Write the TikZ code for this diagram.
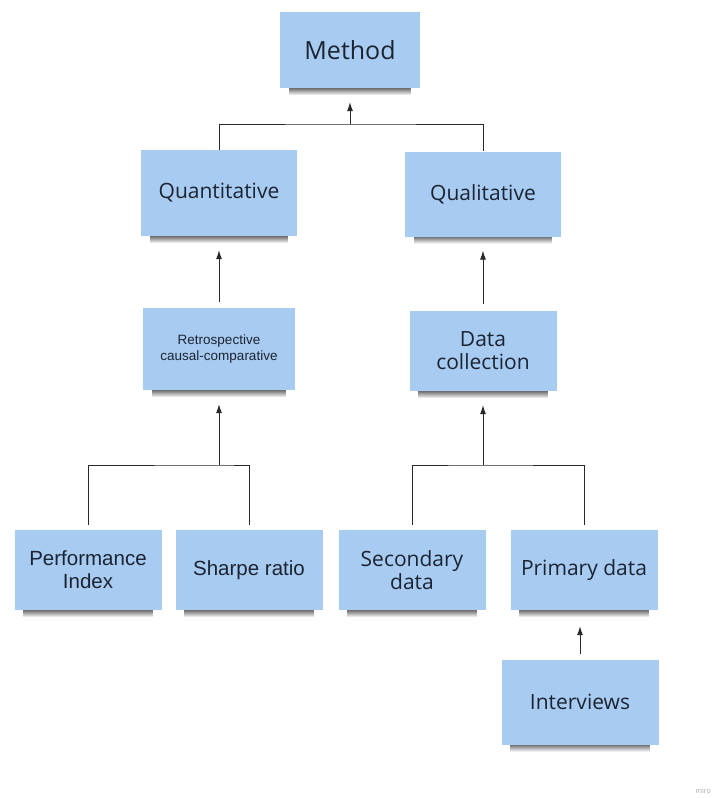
\documentclass[tikz,border=0pt]{standalone}
\usepackage{fontspec}
\setmainfont{Open Sans}
\newfontfamily\arialfont{Liberation Sans}
\usetikzlibrary{positioning}
\usetikzlibrary{arrows.meta}
\usetikzlibrary{fadings}

\definecolor{notefill}{RGB}{168,203,241}
\definecolor{notetext}{RGB}{28,36,50}
\definecolor{linkgray}{RGB}{40,40,40}

\tikzset{
  note/.style={fill=notefill, text=notetext, align=center, inner sep=2pt,
    minimum width=147pt, minimum height=80pt,
    font=\fontsize{21}{23}\selectfont},
  shadowband/.style={fill=black!75, opacity=0.75, path fading=south},
  link/.style={draw=linkgray, line width=0.9pt},
  uplink/.style={link, -{Latex[length=9pt,width=6pt]}}
}

\begin{document}
\begin{tikzpicture}[x=1pt,y=-1pt]

\useasboundingbox[fill=white] (0,0) rectangle (713,798);

% boxes
{
\node[note, minimum width=140pt, minimum height=76pt,
  font=\fontsize{25}{28}\selectfont] (method) at (350,50) {Method};

\node[note, minimum width=156pt, minimum height=86pt] (quant) at (219,193) {Quantitative};
\node[note, minimum width=156pt, minimum height=85pt] (qual) at (483,194) {Qualitative};

\node[note, minimum width=152pt, minimum height=82pt,
  font=\arialfont\fontsize{13.5}{16.5}\selectfont] (retro) at (219,349)
  {Retrospective\\causal-comparative};
\node[note] (datacoll) at (483,351) {Data\\collection};

\node[note, font=\arialfont\fontsize{20.5}{23}\selectfont] (perf) at (88,570)
  {Performance\\Index};
\node[note, font=\arialfont\fontsize{20.5}{23}\selectfont] (sharpe) at (249,570)
  {Sharpe ratio};
\node[note] (second) at (412,570) {Secondary\\data};
\node[note] (primary) at (584,570) {Primary data};

\node[note, minimum width=157pt, minimum height=85pt] (interv) at (580,702) {Interviews};
}

% shadows under the notes
\foreach \n in {method,quant,qual,retro,datacoll,perf,sharpe,second,primary,interv}
  \fill[shadowband] ([xshift=9pt]\n.south west) rectangle ([xshift=-9pt,yshift=-7pt]\n.south east);

% junctions
{
\coordinate (jtop) at (350,124);
\coordinate (jleft) at (219,465);
\coordinate (jright) at (483,465);
}

% connectors
{
\draw[link] (quant.north) |- (jtop) -| (qual.north);
\draw[uplink, shorten >=14pt] (jtop) -- (method.south);

\draw[uplink, shorten <=6pt, shorten >=14pt] (retro.north) -- (quant.south);
\draw[uplink, shorten <=7pt, shorten >=14pt] (datacoll.north) -- (qual.south);

\draw[link, shorten <=5pt, shorten >=5pt] (perf.north) |- (jleft) -| (sharpe.north);
\draw[uplink, shorten >=14pt] (jleft) -- (retro.south);

\draw[link, shorten <=5pt, shorten >=5pt] (second.north) |- (jright) -| (primary.north);
\draw[uplink, shorten >=14pt] (jright) -- (datacoll.south);

\draw[uplink, shorten <=5pt, shorten >=16pt] (interv.north) -- (interv.north |- primary.south);
}

\node[anchor=east, text=black!35, inner sep=1pt, font=\fontsize{7}{8}\selectfont] (miro) at (712,791) {miro};

\end{tikzpicture}
\end{document}
